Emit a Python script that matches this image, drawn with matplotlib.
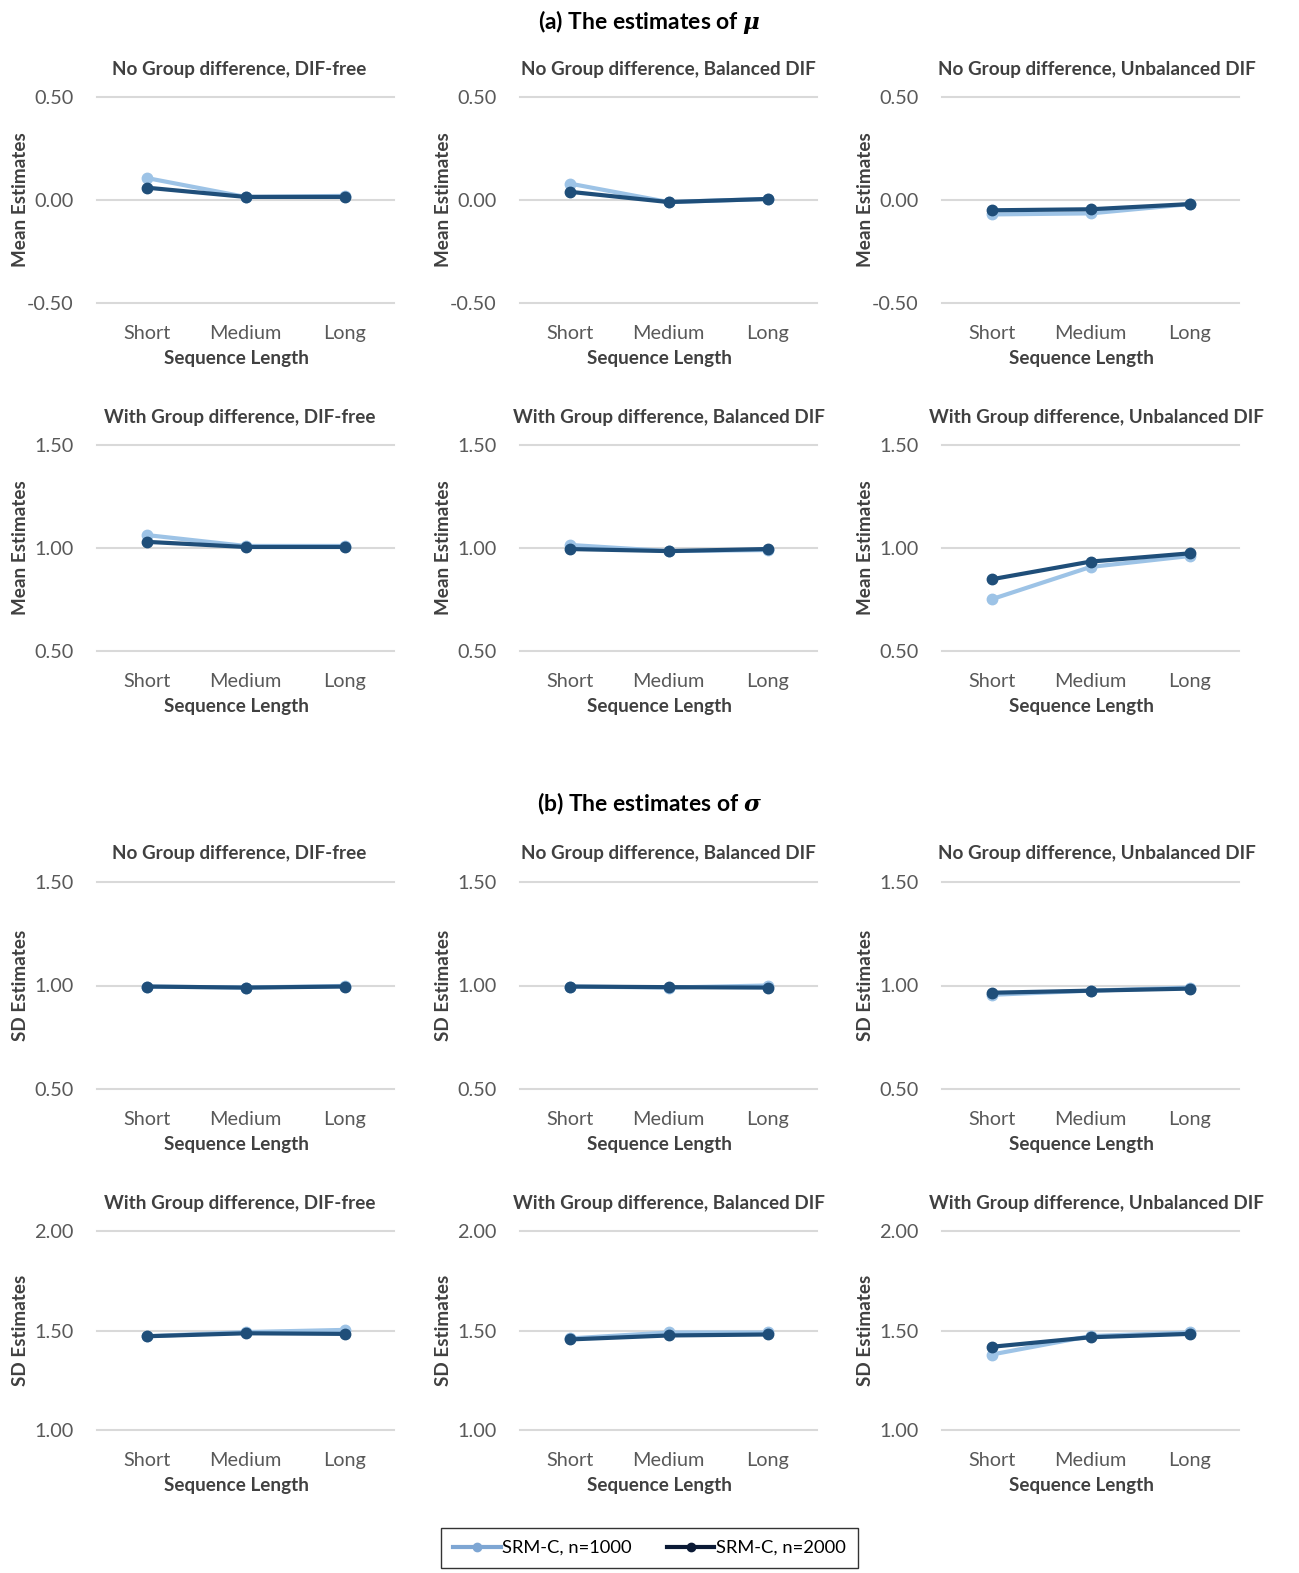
import matplotlib
matplotlib.use('Agg')
import matplotlib.pyplot as plt
from matplotlib.lines import Line2D

plt.rcParams['font.family'] = ['Lato', 'DejaVu Sans']
plt.rcParams['mathtext.fontset'] = 'custom'
plt.rcParams['mathtext.it'] = 'DejaVu Serif:italic:bold'
plt.rcParams['mathtext.rm'] = 'DejaVu Serif:bold'

# categories and series
lengths = ['Short', 'Medium', 'Long']
series_names = ['SRM-C, n=1000', 'SRM-C, n=2000']

cond_titles = [
    'No Group difference, DIF-free',
    'No Group difference, Balanced DIF',
    'No Group difference, Unbalanced DIF',
    'With Group difference, DIF-free',
    'With Group difference, Balanced DIF',
    'With Group difference, Unbalanced DIF',
]

# (a) mean estimates, one list per condition
mu_n1000 = [
    [0.107, 0.015, 0.020],
    [0.080, -0.010, 0.005],
    [-0.070, -0.065, -0.020],
    [1.063, 1.010, 1.010],
    [1.015, 0.985, 0.990],
    [0.751, 0.908, 0.961],
]
mu_n2000 = [
    [0.060, 0.015, 0.015],
    [0.040, -0.010, 0.005],
    [-0.050, -0.045, -0.020],
    [1.030, 1.005, 1.005],
    [0.995, 0.985, 0.995],
    [0.848, 0.934, 0.974],
]

# (b) SD estimates
sd_n1000 = [
    [0.995, 0.990, 0.998],
    [0.995, 0.990, 1.000],
    [0.955, 0.975, 0.990],
    [1.471, 1.492, 1.503],
    [1.460, 1.490, 1.490],
    [1.379, 1.472, 1.490],
]
sd_n2000 = [
    [0.995, 0.990, 0.995],
    [0.995, 0.992, 0.990],
    [0.965, 0.975, 0.985],
    [1.471, 1.486, 1.483],
    [1.455, 1.475, 1.480],
    [1.418, 1.466, 1.483],
]

mu_ticks_top = [-0.5, 0.0, 0.5]
mu_ticks_bot = [0.5, 1.0, 1.5]
sd_ticks_top = [0.5, 1.0, 1.5]
sd_ticks_bot = [1.0, 1.5, 2.0]

C_LIGHT = '#9dc3e6'
C_DARK = '#1f4e79'
GRID = '#d9d9d9'
TXT = '#404040'
TICK = '#595959'

W, H = 1299, 1573
fig = plt.figure(figsize=(W / 100, H / 100), dpi=100)

col_left = [97, 520, 942]
col_width = 297
title_x = [0.48, 0.5, 0.52]
row_boxes = [(97, 303), (445, 651), (882, 1089), (1231, 1430)]


def draw_panel(ax, title, v1, v2, ticks, ylabel, h, tx):
    x = range(len(lengths))
    for t in ticks:
        ax.axhline(t, color=GRID, lw=1.5, clip_on=False, zorder=0)
    ax.plot(x, v1, color=C_LIGHT, lw=3, marker='o', ms=7.5, zorder=2,
            solid_capstyle='round')
    ax.plot(x, v2, color=C_DARK, lw=3, marker='o', ms=7.5, zorder=3,
            solid_capstyle='round')
    ax.set_xlim(-0.5, 2.5)
    ax.set_ylim(ticks[0], ticks[-1])
    ax.set_yticks(ticks)
    ax.set_yticklabels([f'{t:.2f}' for t in ticks])
    ax.set_xticks(list(x))
    ax.set_xticklabels(lengths)
    ax.tick_params(length=0, labelsize=14.3, labelcolor=TICK)
    ax.tick_params(axis='y', pad=17)
    ax.tick_params(axis='x', pad=16)
    for s in ax.spines.values():
        s.set_visible(False)
    ax.set_facecolor('none')
    ax.set_xlabel('Sequence Length', fontsize=13.6, fontweight='bold', color=TXT)
    ax.xaxis.set_label_coords(0.47, -47 / h)
    ax.set_ylabel(ylabel, fontsize=13.6, fontweight='bold', color=TXT)
    ax.yaxis.set_label_coords(-68 / col_width, 0.5)
    ax.text(tx, 1 + 28 / h, title, transform=ax.transAxes, ha='center',
            va='center', fontsize=13.6, fontweight='bold', color=TXT)


for r, (top, bot) in enumerate(row_boxes):
    h = bot - top
    for c in range(3):
        ax = fig.add_axes([col_left[c] / W, 1 - bot / H, col_width / W, h / H])
        idx = (r % 2) * 3 + c
        if r < 2:
            ticks = mu_ticks_top if r == 0 else mu_ticks_bot
            draw_panel(ax, cond_titles[idx], mu_n1000[idx], mu_n2000[idx],
                       ticks, 'Mean Estimates', h, title_x[c])
        else:
            ticks = sd_ticks_top if r == 2 else sd_ticks_bot
            draw_panel(ax, cond_titles[idx], sd_n1000[idx], sd_n2000[idx],
                       ticks, 'SD Estimates', h, title_x[c])

fig.text(0.5, 1 - 22 / H, r'(a) The estimates of $\mu$', ha='center', va='center',
         fontsize=16.5, fontweight='bold', color='black')
fig.text(0.5, 1 - 804 / H, r'(b) The estimates of $\sigma$', ha='center', va='center',
         fontsize=16.5, fontweight='bold', color='black')

handles = [
    Line2D([], [], color='#7ea6d3', lw=3, marker='o', ms=6),
    Line2D([], [], color='#0b1a35', lw=3, marker='o', ms=6),
]
leg = fig.legend(handles, series_names, loc='center', ncol=2,
                 bbox_to_anchor=(0.5, 1 - 1548 / H), fontsize=13.2,
                 frameon=True, fancybox=False, edgecolor='black',
                 handlelength=2.6, handletextpad=0.1, columnspacing=1.9,
                 borderpad=0.65, borderaxespad=0)
leg.get_frame().set_linewidth(1.0)

fig.savefig('out.png', dpi=100, facecolor='white')
